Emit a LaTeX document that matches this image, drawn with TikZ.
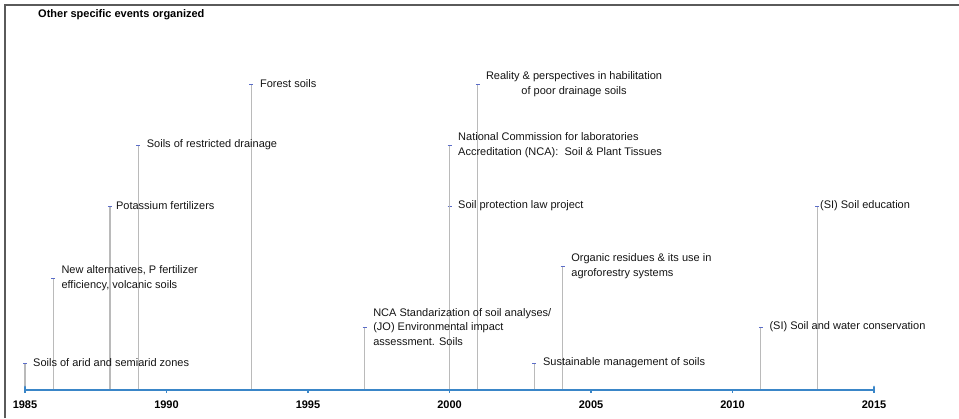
\documentclass[tikz,border=0pt]{standalone}
\usepackage{fontspec}
\setmainfont{Liberation Sans}
\definecolor{axisblue}{HTML}{3A86C8}
\definecolor{tickblue}{HTML}{5A6CC8}
\definecolor{stemgray}{HTML}{BABABA}
\definecolor{framegray}{HTML}{5A5A5A}
\usetikzlibrary{positioning, calc}
\newcommand{\milestone}[2]
{
	\draw[stemline] (#1) -- (#2);
	\draw[tickmark] ($ (#1) + (-2,0) $) -- ($ (#1) + (2,0) $)
}

\begin{document}
\begin{tikzpicture}[x=1pt, y=-1pt,
every node/.append style={shape=rectangle, inner sep=0pt},
event/.style={font=\fontsize{11}{14.5}\selectfont, text=black!92, align=left},
yearlabel/.style={font=\fontsize{11}{13}\selectfont\bfseries, text=black},
stemline/.style={draw=stemgray, line width=1.2pt},
tickmark/.style={draw=tickblue, line width=1pt},
axisline/.style={draw=axisblue, line width=2.8pt, line cap=round}]

\useasboundingbox (0,0) rectangle (959,418);
\draw[framegray, line width=1.8pt] (5,418) -- (5,5) -- (959,5);

\node[font=\fontsize{11}{13}\selectfont\bfseries, anchor=west] at (38,15) (title){Other specific events organized};

\coordinate (a1985) at (25,390);
\coordinate (a1986) at (53.3,390);
\coordinate (a1988) at (109.9,390);
\coordinate (a1989) at (138.2,390);
\coordinate (a1993) at (251.4,390);
\coordinate (a1997) at (364.6,390);
\coordinate (a2000) at (449.5,390);
\coordinate (a2001) at (477.8,390);
\coordinate (a2003) at (534.4,390);
\coordinate (a2004) at (562.7,390);
\coordinate (a2011) at (760.8,390);
\coordinate (a2013) at (817.4,390);
\coordinate (a2015) at (874,390);

\coordinate (s1985) at (25,363);
\coordinate (s1986) at (53.3,278);
\coordinate (s1988) at (109.9,206);
\coordinate (s1989) at (138.2,145);
\coordinate (s1993) at (251.4,84);
\coordinate (s1997) at (364.6,327);
\coordinate (s2000a) at (449.5,206);
\coordinate (s2000b) at (449.5,145);
\coordinate (s2001) at (477.8,84);
\coordinate (s2003) at (534.4,363);
\coordinate (s2004) at (562.7,266);
\coordinate (s2011) at (760.8,327);
\coordinate (s2013) at (817.4,206);

\milestone{s1985}{a1985};
\milestone{s1986}{a1986};
\milestone{s1988}{a1988};
\milestone{s1989}{a1989};
\milestone{s1993}{a1993};
\milestone{s1997}{a1997};
\milestone{s2000a}{a2000};
\milestone{s2000b}{a2000};
\milestone{s2001}{a2001};
\milestone{s2003}{a2003};
\milestone{s2004}{a2004};
\milestone{s2011}{a2011};
\milestone{s2013}{a2013};

\draw[axisline] ($ (a1985) + (0,-3) $) -- (a1985) -- (a2015) -- ++(0,-3);
\foreach \yr/\x in {1985/25, 1990/166.5, 1995/308, 2000/449.5, 2005/591, 2010/732.5, 2015/874}
{
	\draw[axisblue, line width=1.2pt] (\x,390) -- (\x,392.5);
	\node[yearlabel] at (\x,405) (y\yr){\yr};
}

\node[event, right=8pt of s1985] (e1985){Soils of arid and semiarid zones};
\node[event, right=8pt of s1986] (e1986){New alternatives, P fertilizer\\efficiency, volcanic soils};
\node[event, right=6pt of s1988] (e1988){Potassium fertilizers};
\node[event, right=8.5pt of s1989] (e1989){Soils of restricted drainage};
\node[event, right=8.5pt of s1993] (e1993){Forest soils};
\node[event, right=8.5pt of s1997] (e1997){NCA Standarization of soil analyses/\\(JO) Environmental impact\\assessment. Soils};
\node[event, right=8.5pt of s2000a] (e2000a){Soil protection law project};
\node[event, right=8.5pt of s2000b] (e2000b){National Commission for laboratories\\Accreditation (NCA):\ \ Soil \& Plant Tissues};
\node[event, align=center, right=8pt of s2001] (e2001){Reality \& perspectives in habilitation\\of poor drainage soils};
\node[event, right=8.5pt of s2003] (e2003){Sustainable management of soils};
\node[event, right=8.5pt of s2004] (e2004){Organic residues \& its use in\\agroforestry systems};
\node[event, right=8.5pt of s2011] (e2011){(SI) Soil and water conservation};
\node[event, right=2.5pt of s2013] (e2013){(SI) Soil education};
\end{tikzpicture}
\end{document}
